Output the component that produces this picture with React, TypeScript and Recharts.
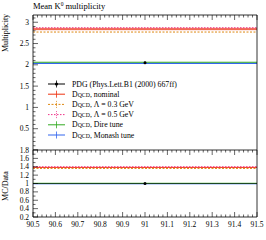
import { ComposedChart, Line, Area, Scatter, XAxis, YAxis, ErrorBar } from 'recharts';

// bin edges (single bin spanning the whole range)
const binEdges = [90.5, 91.5];

// PDG measurement
const dataX = [91];
const dataY = [2.05];
const dataErr = [0.03];

// MC predictions (main panel)
const nominal = [2.84, 2.84];
const nominalLo = [2.81, 2.81];
const nominalHi = [2.87, 2.87];
const lambda03 = [2.77, 2.77];
const lambda05 = [2.87, 2.87];
const direTune = [2.06, 2.06];
const monashTune = [2.035, 2.035];

// ratio panel (MC / Data)
const rData = [1.0, 1.0];
const rNominal = [1.385, 1.385];
const rLambda03 = [1.36, 1.36];
const rLambda05 = [1.4, 1.4];
const rDire = [1.005, 1.005];
const rMonash = [0.993, 0.993];

// tick labels
const xMajorTicks = [90.5, 90.6, 90.7, 90.8, 90.9, 91, 91.1, 91.2, 91.3, 91.4, 91.5];
const mainYTickLabels = [0.5, 1, 1.5, 2, 2.5, 3];
const ratioYTickLabels = [0.2, 0.4, 0.6, 0.8, 1, 1.2, 1.4, 1.6, 1.8];

const FONT = '"Liberation Serif", "DejaVu Serif", serif';

const range = (a: number, b: number, step: number) => {
  const out: number[] = [];
  for (let i = 0; a + i * step <= b + 1e-9; i++) out.push(Math.round((a + i * step) * 1000) / 1000);
  return out;
};

const xTicks = range(90.5, 91.5, 0.02);
const mainYTicks = range(0, 3.1, 0.1);
const ratioYTicks = range(0.2, 1.8, 0.1);

const near = (v: number, list: number[]) => list.some(t => Math.abs(t - v) < 1e-6);

const mainRows = binEdges.map((x, i) => ({
  x,
  nominal: nominal[i],
  band: [nominalLo[i], nominalHi[i]],
  lambda03: lambda03[i],
  lambda05: lambda05[i],
  dire: direTune[i],
  monash: monashTune[i],
}));

const ratioRows = binEdges.map((x, i) => ({
  x,
  data: rData[i],
  nominal: rNominal[i],
  lambda03: rLambda03[i],
  lambda05: rLambda05[i],
  dire: rDire[i],
  monash: rMonash[i],
}));

const points = dataX.map((x, i) => ({ x, y: dataY[i], err: dataErr[i] }));
const ratioPoints = dataX.map(x => ({ x, y: 1 }));

const C = {
  nominal: '#ee3311',
  band: '#f7a8a0',
  lambda03: '#dd8811',
  lambda05: '#ee3388',
  dire: '#33aa22',
  monash: '#3366ee',
};

// x ticks: dir = +1 draws downward, -1 upward
const makeXTick = (dir: number, labels: boolean) => (props: any) => {
  const { x, y, payload } = props;
  const major = near(payload.value, xMajorTicks);
  const len = major ? 5 : 2.5;
  return (
    <g>
      <line x1={x} x2={x} y1={y} y2={y + dir * len} stroke="#000" strokeWidth={0.6} />
      {labels && major && (
        <text x={x} y={y + 10} textAnchor="middle" fontSize={7.5} fontFamily={FONT} fill="#000">
          {payload.value}
        </text>
      )}
    </g>
  );
};

const makeYTick = (dir: number, labelList: number[] | null, majors: number[]) => (props: any) => {
  const { x, y, payload } = props;
  const major = near(payload.value, majors);
  const len = major ? 5 : 2.5;
  return (
    <g>
      <line x1={x} x2={x + dir * len} y1={y} y2={y} stroke="#000" strokeWidth={0.6} />
      {labelList && near(payload.value, labelList) && (
        <text x={x - 4} y={y + 2.5} textAnchor="end" fontSize={7.5} fontFamily={FONT} fill="#000">
          {payload.value}
        </text>
      )}
    </g>
  );
};

const mainMajors = range(0, 3, 0.5);
const ratioMajors = range(0.2, 1.8, 0.2);

const Dqcd = () => (
  <>
    <tspan>D</tspan>
    <tspan fontSize={5.8}>QCD</tspan>
  </>
);

const legendItems = [
  { color: '#000', dash: undefined as string | undefined, dot: true, label: false, text: 'PDG (Phys.Lett.B1 (2000) 667ff)' },
  { color: C.nominal, dash: undefined, dot: false, label: true, text: ', nominal' },
  { color: C.lambda03, dash: '2 1.5', dot: false, label: true, text: ', Λ = 0.3 GeV' },
  { color: C.lambda05, dash: '1.5 1.5', dot: false, label: true, text: ', Λ = 0.5 GeV' },
  { color: C.dire, dash: undefined, dot: false, label: true, text: ', Dire tune' },
  { color: C.monash, dash: undefined, dot: false, label: true, text: ', Monash tune' },
];

const axisLine = { stroke: '#000', strokeWidth: 0.8 };

export default function App() {
  return (
    <div style={{ position: 'absolute', left: 0, top: 0, width: 266, height: 240, background: '#fff' }}>
      <div style={{ position: 'absolute', left: 0, top: 0 }}>
        <ComposedChart width={266} height={150} data={mainRows} margin={{ top: 0, right: 0, bottom: 0, left: 0 }}>
          <XAxis dataKey="x" type="number" domain={[90.5, 91.5]} ticks={xTicks} interval={0}
            height={0} tickSize={0} tickMargin={0} axisLine={axisLine} tick={makeXTick(-1, false)} />
          <XAxis xAxisId="top" orientation="top" dataKey="x" type="number" domain={[90.5, 91.5]} ticks={xTicks}
            interval={0} height={15} tickSize={0} tickMargin={0} axisLine={axisLine} tick={makeXTick(1, false)} />
          <YAxis type="number" domain={[0, 3.17]} ticks={mainYTicks} interval={0} width={33}
            tickSize={0} tickMargin={0} axisLine={axisLine} tick={makeYTick(1, mainYTickLabels, mainMajors)} />
          <YAxis yAxisId="right" orientation="right" type="number" domain={[0, 3.17]} ticks={mainYTicks}
            interval={0} width={9} tickSize={0} tickMargin={0} axisLine={axisLine} tick={makeYTick(-1, null, mainMajors)} />
          <Area dataKey="band" stroke="none" fill={C.band} fillOpacity={1} isAnimationActive={false} />
          <Line dataKey="monash" stroke={C.monash} strokeWidth={1.2} dot={false} isAnimationActive={false} />
          <Line dataKey="dire" stroke={C.dire} strokeWidth={1.2} dot={false} isAnimationActive={false} />
          <Line dataKey="lambda03" stroke={C.lambda03} strokeWidth={1} strokeDasharray="2 1.5" dot={false} isAnimationActive={false} />
          <Line dataKey="nominal" stroke={C.nominal} strokeWidth={1} dot={false} isAnimationActive={false} />
          <Line dataKey="lambda05" stroke={C.lambda05} strokeWidth={1} strokeDasharray="1.5 1.5" dot={false} isAnimationActive={false} />
          <Scatter data={points} dataKey="y" fill="#000" shape={(p: any) => <circle cx={p.cx} cy={p.cy} r={1.5} fill="#000" />} isAnimationActive={false}>
            <ErrorBar dataKey="err" direction="y" width={0} stroke="#000" strokeWidth={0.8} />
          </Scatter>
        </ComposedChart>
      </div>
      <div style={{ position: 'absolute', left: 0, top: 140 }}>
        <ComposedChart width={266} height={100} data={ratioRows} margin={{ top: 0, right: 0, bottom: 0, left: 0 }}>
          <XAxis dataKey="x" type="number" domain={[90.5, 91.5]} ticks={xTicks} interval={0}
            height={23} tickSize={0} tickMargin={0} axisLine={axisLine} tick={makeXTick(-1, true)} />
          <XAxis xAxisId="top" orientation="top" dataKey="x" type="number" domain={[90.5, 91.5]} ticks={xTicks}
            interval={0} height={10} tickSize={0} tickMargin={0} axisLine={axisLine} tick={makeXTick(1, false)} />
          <YAxis type="number" domain={[0.2, 1.8]} ticks={ratioYTicks} interval={0} width={33}
            tickSize={0} tickMargin={0} axisLine={axisLine} tick={makeYTick(1, ratioYTickLabels, ratioMajors)} />
          <YAxis yAxisId="right" orientation="right" type="number" domain={[0.2, 1.8]} ticks={ratioYTicks}
            interval={0} width={9} tickSize={0} tickMargin={0} axisLine={axisLine} tick={makeYTick(-1, null, ratioMajors)} />
          <Line dataKey="monash" stroke={C.monash} strokeWidth={1} dot={false} isAnimationActive={false} />
          <Line dataKey="dire" stroke={C.dire} strokeWidth={1} dot={false} isAnimationActive={false} />
          <Line dataKey="data" stroke="#000" strokeWidth={0.8} strokeOpacity={0.7} dot={false} isAnimationActive={false} />
          <Line dataKey="lambda03" stroke={C.lambda03} strokeWidth={1} strokeDasharray="2 1.5" dot={false} isAnimationActive={false} />
          <Line dataKey="nominal" stroke={C.nominal} strokeWidth={1} dot={false} isAnimationActive={false} />
          <Line dataKey="lambda05" stroke={C.lambda05} strokeWidth={1} strokeDasharray="1.5 1.5" dot={false} isAnimationActive={false} />
          <Scatter data={ratioPoints} dataKey="y" shape={(p: any) => <circle cx={p.cx} cy={p.cy} r={1.5} fill="#000" />} isAnimationActive={false} />
        </ComposedChart>
      </div>
      <svg width={266} height={240} style={{ position: 'absolute', left: 0, top: 0, pointerEvents: 'none' }}>
        <text x={33} y={9} fontSize={8.5} fontFamily={FONT} fill="#000">
          Mean K<tspan fontSize={5.5} dy={-3}>0</tspan><tspan dy={3}> multiplicity</tspan>
        </text>
        <text transform="translate(8,33) rotate(-90)" textAnchor="middle" fontSize={8} fontFamily={FONT} fill="#000">
          Multiplicity
        </text>
        <text transform="translate(8,186) rotate(-90)" textAnchor="middle" fontSize={8} fontFamily={FONT} fill="#000">
          MC/Data
        </text>
        {legendItems.map((it, i) => {
          const y = 84 + i * 10.2;
          return (
            <g key={i}>
              <line x1={48} x2={65} y1={y} y2={y} stroke={it.color} strokeWidth={1} strokeDasharray={it.dash} />
              <line x1={56.5} x2={56.5} y1={y - 3.5} y2={y + 3.5} stroke={it.color} strokeWidth={0.8} strokeDasharray={it.dash ? '1 1' : undefined} />
              {it.dot && <circle cx={56.5} cy={y} r={1.6} fill="#000" />}
              <text x={72} y={y + 2.6} fontSize={7.8} fontFamily={FONT} fill="#000">
                {it.label ? <Dqcd /> : null}
                {it.text}
              </text>
            </g>
          );
        })}
      </svg>
    </div>
  );
}
